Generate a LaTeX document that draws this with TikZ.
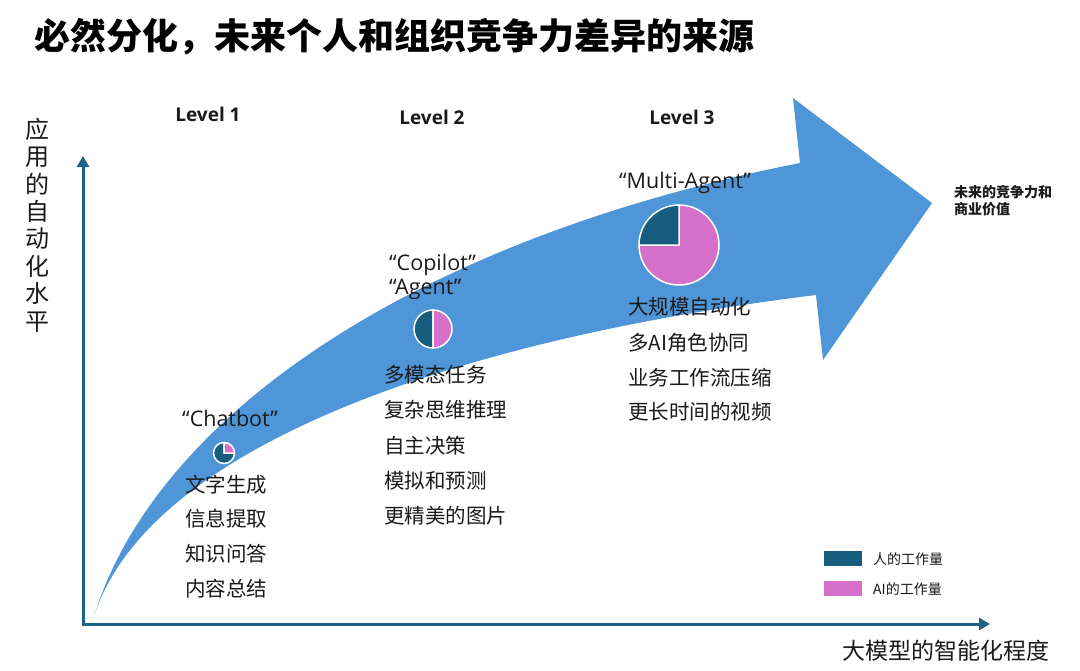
\documentclass[tikz,border=0pt]{standalone}
\usepackage{fontspec}
\setmainfont{Noto Sans CJK SC}
\newfontfamily\lat{Open Sans}
\usetikzlibrary{arrows.meta}
\definecolor{arrowblue}{HTML}{4F96D9}
\definecolor{axisteal}{HTML}{1B6285}
\definecolor{piedark}{HTML}{175E7E}
\definecolor{piepink}{HTML}{D66FC9}
\definecolor{txt}{HTML}{1A1A1A}
\begin{document}
\begin{tikzpicture}[x=1pt,y=-1pt,
  axisline/.style={draw=axisteal, line width=3pt, line join=miter},
  levellabel/.style={font=\lat\bfseries\fontsize{19}{22}\selectfont, text=txt, inner sep=0pt},
  quotelabel/.style={font=\lat\fontsize{21.5}{24}\selectfont, text=txt, inner sep=0pt},
  item/.style={font=\fontsize{20.5}{24}\selectfont, text=txt, anchor=west, inner sep=0pt},
  slice/.style={draw=white, line width=1.5pt, line join=round},
  legendbox/.style={minimum width=39pt, minimum height=16pt, inner sep=0pt, anchor=west, draw=white, line width=0.8pt},
  legendtext/.style={font=\fontsize{14}{16}\selectfont, text=txt, anchor=west, inner sep=0pt}
]
\useasboundingbox (0,0) rectangle (1080,670);
\fill[white] (0,0) rectangle (1080,670);

% title
\node[anchor=west, inner sep=0pt, font=\bfseries\fontsize{36}{40}\selectfont] (title) at (34,37) {必然分化，未来个人和组织竞争力差异的来源};

% big curved arrow
\fill[arrowblue] (92,623) .. controls (150,420) and (410,240) .. (800,163)
  -- (793,98) -- (932,203) -- (823,360) -- (816,295)
  .. controls (450,340) and (140,450) .. (92,623) -- cycle;

% axes
\coordinate (ytop) at (83,156);
\coordinate (origin) at (83,624);
\coordinate (xend) at (990,624);
\draw[axisline, {Triangle[length=11pt,width=12pt]}-{Triangle[length=11pt,width=12pt]}] (ytop) -- (origin) -- (xend);

% axis labels
\node[inner sep=0pt, align=center, font=\fontsize{24}{27.4}\selectfont, text=txt] (ylabel) at (37,225) {应\\用\\的\\自\\动\\化\\水\\平};
\node[anchor=west, inner sep=0pt, font=\fontsize{23}{26}\selectfont, text=txt] (xlabel) at (842,651) {大模型的智能化程度};

% levels
\node[levellabel] (lv1) at (208,114) {Level 1};
\node[levellabel] (lv2) at (432,117) {Level 2};
\node[levellabel] (lv3) at (682,117) {Level 3};

% quote labels
\node[quotelabel] (chatbot) at (230,418) {“Chatbot”};
\node[quotelabel, anchor=west] (copilot) at (389,265) {“Copilot”};
\node[quotelabel, anchor=west] (agent) at (389,289) {“Agent”};
\node[quotelabel] (multi) at (685,183) {“Multi-Agent”};

% pies
\coordinate (p1) at (224,453);
\fill[piedark, slice] (p1) -- ++(90:10.5pt) arc (90:360:10.5pt) -- cycle;
\fill[piepink, slice] (p1) -- ++(90:10.5pt) arc (90:0:10.5pt) -- cycle;

\coordinate (p2) at (433,329);
\fill[piedark, slice] (p2) -- ++(90:19pt) arc (90:270:19pt) -- cycle;
\fill[piepink, slice] (p2) -- ++(90:19pt) arc (90:-90:19pt) -- cycle;

\coordinate (p3) at (679,245);
\fill[piepink, slice] (p3) -- ++(180:40pt) arc (180:450:40pt) -- cycle;
\fill[piedark, slice] (p3) -- ++(90:40pt) arc (90:180:40pt) -- cycle;

% level 1 items
\node[item] (a1) at (185,485) {文字生成};
\node[item] (a2) at (185,519) {信息提取};
\node[item] (a3) at (185,554) {知识问答};
\node[item] (a4) at (185,589) {内容总结};

% level 2 items
\node[item] (b1) at (384,375) {多模态任务};
\node[item] (b2) at (384,410) {复杂思维推理};
\node[item] (b3) at (384,446) {自主决策};
\node[item] (b4) at (384,481) {模拟和预测};
\node[item] (b5) at (384,516) {更精美的图片};

% level 3 items
\node[item] (c1) at (628,307) {大规模自动化};
\node[item] (c2) at (628,343) {多AI角色协同};
\node[item] (c3) at (628,378) {业务工作流压缩};
\node[item] (c4) at (628,412) {更长时间的视频};

% right label
\node[anchor=west, inner sep=0pt, font=\bfseries\fontsize{14}{17}\selectfont, text=txt] (goal1) at (954,192) {未来的竞争力和};
\node[anchor=west, inner sep=0pt, font=\bfseries\fontsize{14}{17}\selectfont, text=txt] (goal2) at (954,209) {商业价值};

% legend
\node[legendbox, fill=piedark] (lg1) at (823,558) {};
\node[legendtext] (lt1) at (873,559) {人的工作量};
\node[legendbox, fill=piepink] (lg2) at (823,588) {};
\node[legendtext] (lt2) at (873,589) {AI的工作量};
\end{tikzpicture}
\end{document}
